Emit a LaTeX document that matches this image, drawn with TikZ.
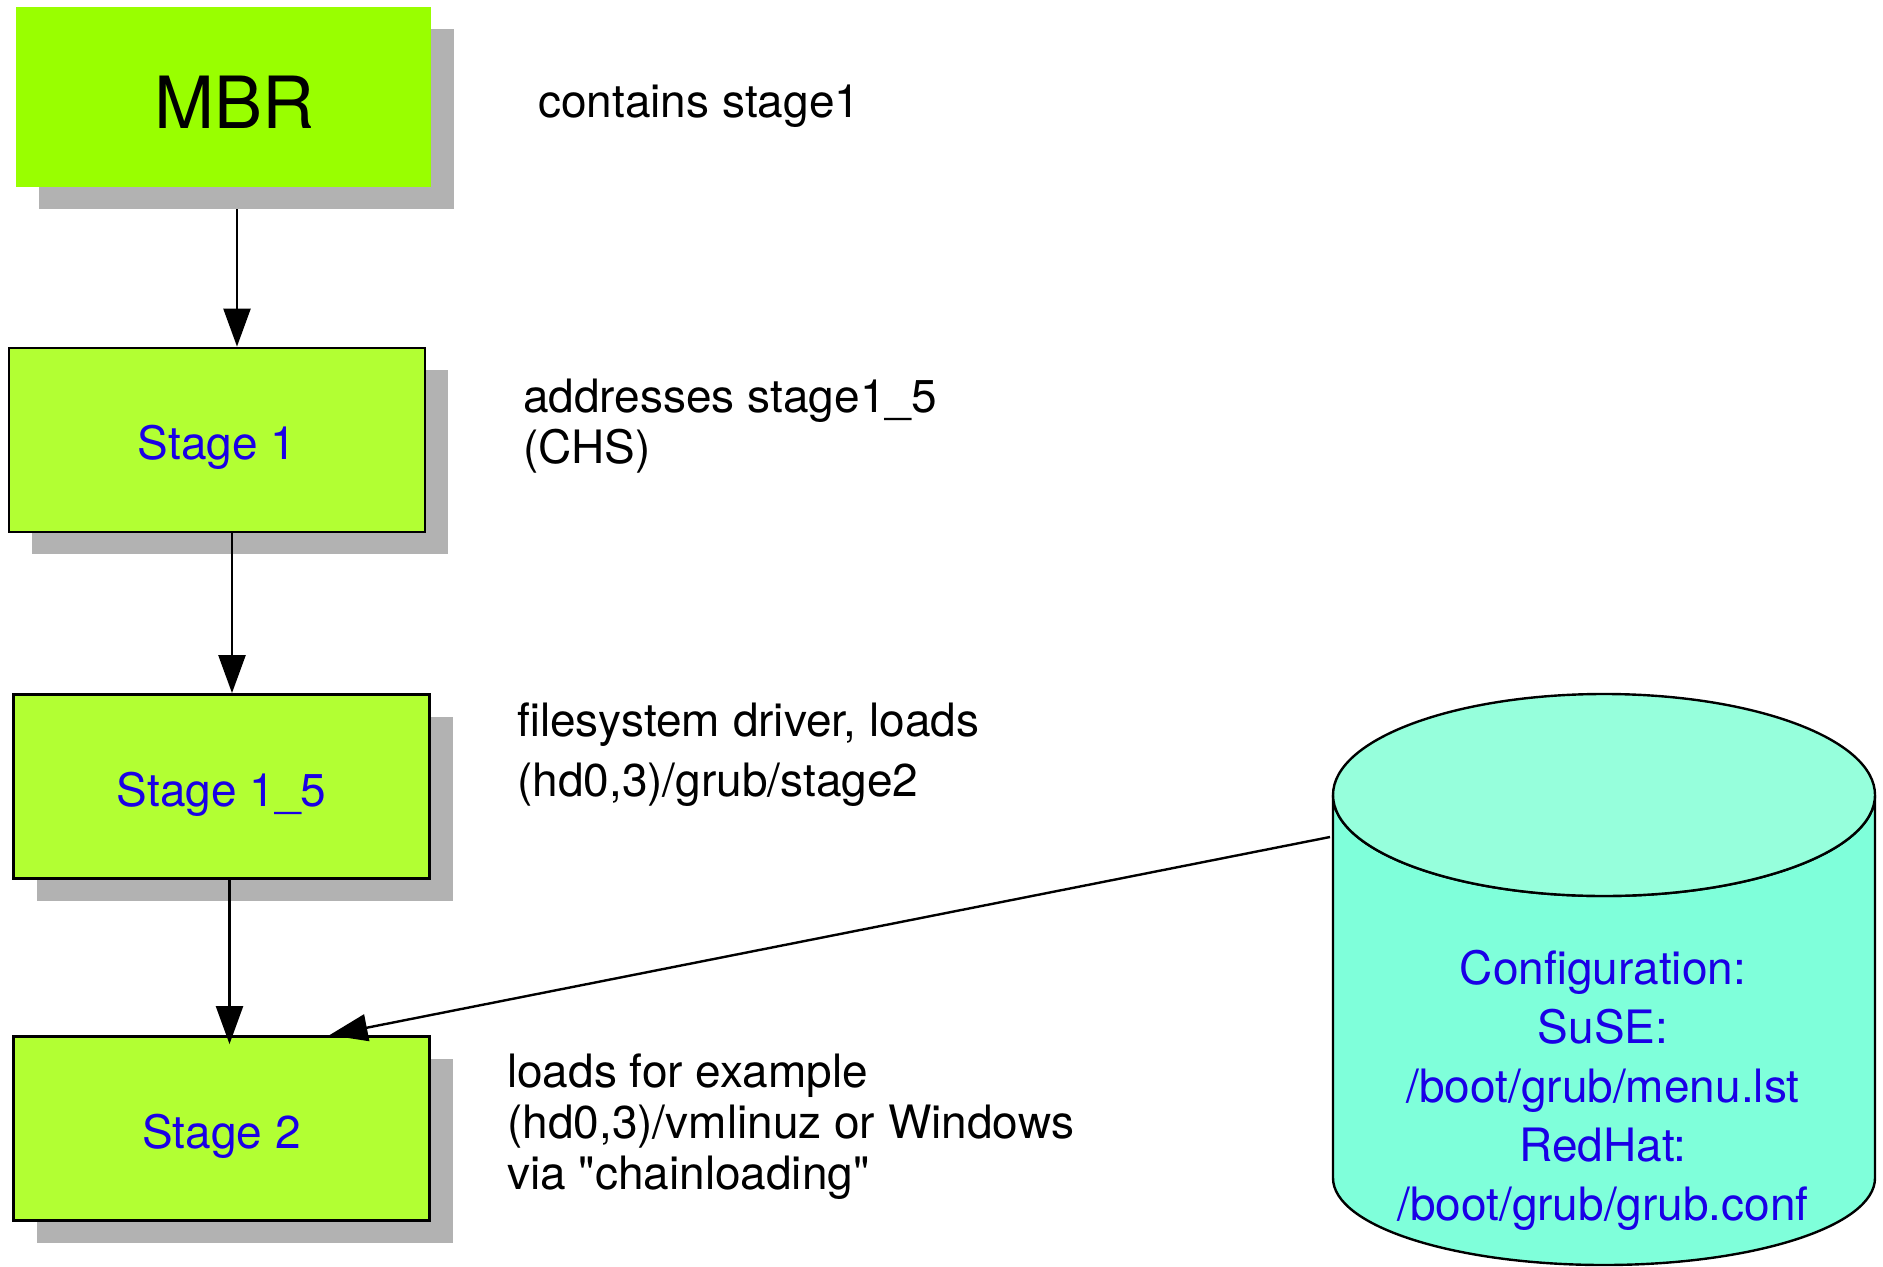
\documentclass[tikz,border=0pt]{standalone}
\usepackage{fontspec}
\setmainfont{TeX Gyre Heros}
\usetikzlibrary{arrows.meta,shadows}
\definecolor{mbrgreen}{RGB}{153,255,0}
\definecolor{stagegreen}{RGB}{178,255,51}
\definecolor{cyltop}{RGB}{150,255,220}
\definecolor{cylbody}{RGB}{127,255,218}
\definecolor{textblue}{RGB}{26,0,230}
\begin{document}
\begin{tikzpicture}[x=0.5pt, y=-0.5pt, >={Triangle[length=19pt,width=13.5pt]}, line width=1.2pt,
    stagebox/.style={rectangle, draw, line width=1.4pt, fill=stagegreen, minimum width=208pt, minimum height=92pt,
      text=textblue, font=\fontsize{23}{27}\selectfont, text height=19.5pt, text depth=0pt,
      drop shadow={shadow xshift=11.5pt, shadow yshift=-11pt, fill=black!30, opacity=1}},
    note/.style={anchor=west, inner sep=0pt, align=left, font=\fontsize{23}{25.5}\selectfont}]
    \useasboundingbox (0,0) rectangle (1883,1267);
    % boot chain
    \node[stagebox, draw=none, fill=mbrgreen, text=black, font=\fontsize{36}{40}\selectfont,
      text height=31.6pt, minimum width=207.5pt, minimum height=90pt] (mbr) at (223.5,97) {\hspace*{11pt}MBR};
    \node[stagebox] (s1) at (217,440) {Stage 1};
    \node[stagebox] (s15) at (221.5,786.5) {Stage 1\_5};
    \node[stagebox] (s2) at (221.5,1128.5) {Stage 2};
    % notes
    \node[note] (mbrnote) at (537,106) {contains stage1};
    \node[note] (s1note) at (522,426) {addresses stage1\_5\\(CHS)};
    \node[note, font=\fontsize{23}{30}\selectfont] (s15note) at (516,755) {filesystem driver, loads\\(hd0,3)/grub/stage2};
    \node[note] (s2note) at (506,1127) {loads for example\\(hd0,3)/vmlinuz or Windows\\via \textquotedbl chainloading\textquotedbl};
    % config file
    \filldraw[fill=cylbody] (1333,795) -- (1333,1178) arc[start angle=180, end angle=0, x radius=271, y radius=87]
      -- (1875,795) arc[start angle=0, end angle=180, x radius=271, y radius=101] -- cycle;
    \filldraw[fill=cyltop] (1604,795) ellipse [x radius=271, y radius=101];
    \node[align=center, text=textblue, inner sep=0pt, font=\fontsize{23}{29.5}\selectfont] (conf) at (1603,1090)
      {Configuration:\\SuSE:\\/boot/grub/menu.lst\\RedHat:\\/boot/grub/grub.conf};
    \coordinate (confin) at (1330,837);
    % arrows
    \draw[->, shorten <=10.5pt] ([xshift=6.75pt]mbr.south) -- ([xshift=10pt]s1.north);
    \draw[->] ([xshift=7.5pt]s1.south) -- ([xshift=5.25pt]s15.north);
    \draw[->, shorten >=-4.5pt] ([xshift=4pt]s15.south) -- ([xshift=4pt]s2.north);
    \draw[->] (confin) -- ([xshift=54pt]s2.north);
\end{tikzpicture}
\end{document}
